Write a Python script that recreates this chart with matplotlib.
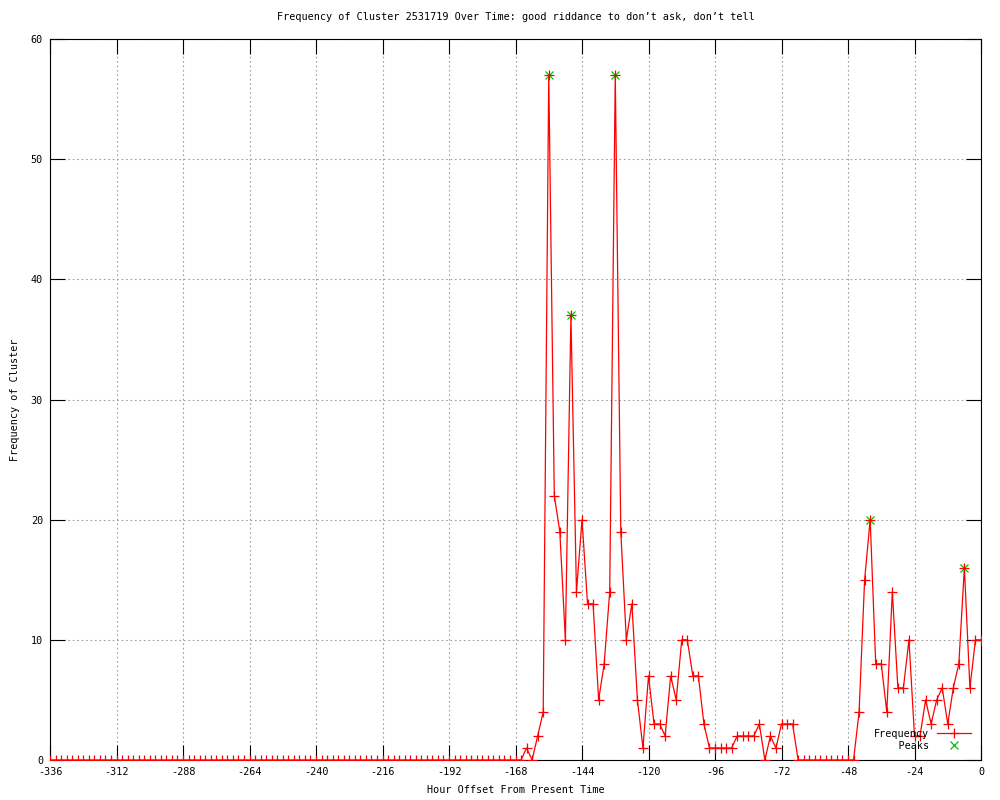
"""
    Frequency of one cluster over the last 336 hours, gnuplot-like look
"""

import matplotlib
matplotlib.use("Agg")
import matplotlib.pyplot as plt

plt.rcParams['font.family'] = ['DejaVu Sans Mono']
plt.rcParams['axes.unicode_minus'] = False

# hour offsets (every 2 hours)
hours = list(range(-336, 1, 2))
# frequency of cluster at each hour
freq = [
    0, 0, 0, 0, 0, 0, 0, 0, 0, 0, 0, 0,  # -336 .. -314
    0, 0, 0, 0, 0, 0, 0, 0, 0, 0, 0, 0,  # -312 .. -290
    0, 0, 0, 0, 0, 0, 0, 0, 0, 0, 0, 0,  # -288 .. -266
    0, 0, 0, 0, 0, 0, 0, 0, 0, 0, 0, 0,  # -264 .. -242
    0, 0, 0, 0, 0, 0, 0, 0, 0, 0, 0, 0,  # -240 .. -218
    0, 0, 0, 0, 0, 0, 0, 0, 0, 0, 0, 0,  # -216 .. -194
    0, 0, 0, 0, 0, 0, 0, 0, 0, 0, 0, 0,  # -192 .. -170
    0, 0,                                # -168 .. -166
    1, 0, 2, 4, 57, 22, 19, 10, 37, 14, 20, 13,   # -164 .. -142
    13, 5, 8, 14, 57, 19, 10, 13, 5, 1, 7, 3,     # -140 .. -118
    3, 2, 7, 5, 10, 10, 7, 7, 3, 1, 1, 1,         # -116 .. -94
    1, 1, 2, 2, 2, 2, 3, 0, 2, 1, 3, 3,           # -92 .. -70
    3, 0, 0, 0, 0, 0, 0, 0, 0, 0, 0, 0,           # -68 .. -46
    4, 15, 20, 8, 8, 4, 14, 6, 6, 10, 2, 2,       # -44 .. -22
    5, 3, 5, 6, 3, 6, 8, 16, 6, 10, 10,           # -20 .. 0
]
# peaks
peak_hours = [-156, -148, -132, -40, -6]
peak_freq = [57, 37, 57, 20, 16]

x_ticks = range(-336, 1, 24)
y_ticks = range(0, 61, 10)

# canvas
fig = plt.figure(figsize=(10, 8), dpi=100)
ax = fig.add_axes([0.05, 0.05, 0.931, 0.90125])

# data line and peaks (peaks under the red line, like gnuplot)
line, = ax.plot(hours, freq, color='red', linewidth=0.9, marker='+',
                markersize=7, markeredgewidth=0.9, label='Frequency', zorder=3)
pk, = ax.plot(peak_hours, peak_freq, color='#00c000', linestyle='none', marker='x',
              markersize=5.5, markeredgewidth=0.9, label='    Peaks', zorder=2)

ax.set_xlim(-336, 0)
ax.set_ylim(0, 60)
ax.set_xticks(x_ticks)
ax.set_yticks(y_ticks)
ax.tick_params(direction='in', length=11, width=0.8, top=True, right=True,
               labelsize=7.3, pad=5, colors='black')

for sp in ax.spines.values():
    sp.set_linewidth(0.8)
    sp.set_color('black')

# dotted grid
ax.grid(True, color='#a0a0a0', linestyle=(0, (1.5, 2.5)), linewidth=0.8)
ax.set_axisbelow(True)

# labels
ax.set_xlabel("Hour Offset From Present Time", fontsize=7.3, labelpad=6)
ax.set_ylabel("Frequency of Cluster", fontsize=7.3, labelpad=8)
ax.set_title("Frequency of Cluster 2531719 Over Time: good riddance to don\u2019t ask, don\u2019t tell",
             fontsize=7.3, pad=14)

ax.legend(handles=[line, pk], loc='lower right', bbox_to_anchor=(0.999, 0.0),
          frameon=False, markerfirst=False, fontsize=7.3, handlelength=3.3,
          handletextpad=0.8, labelspacing=0.2, borderpad=0.4)

plt.savefig("out.png", dpi=100)
